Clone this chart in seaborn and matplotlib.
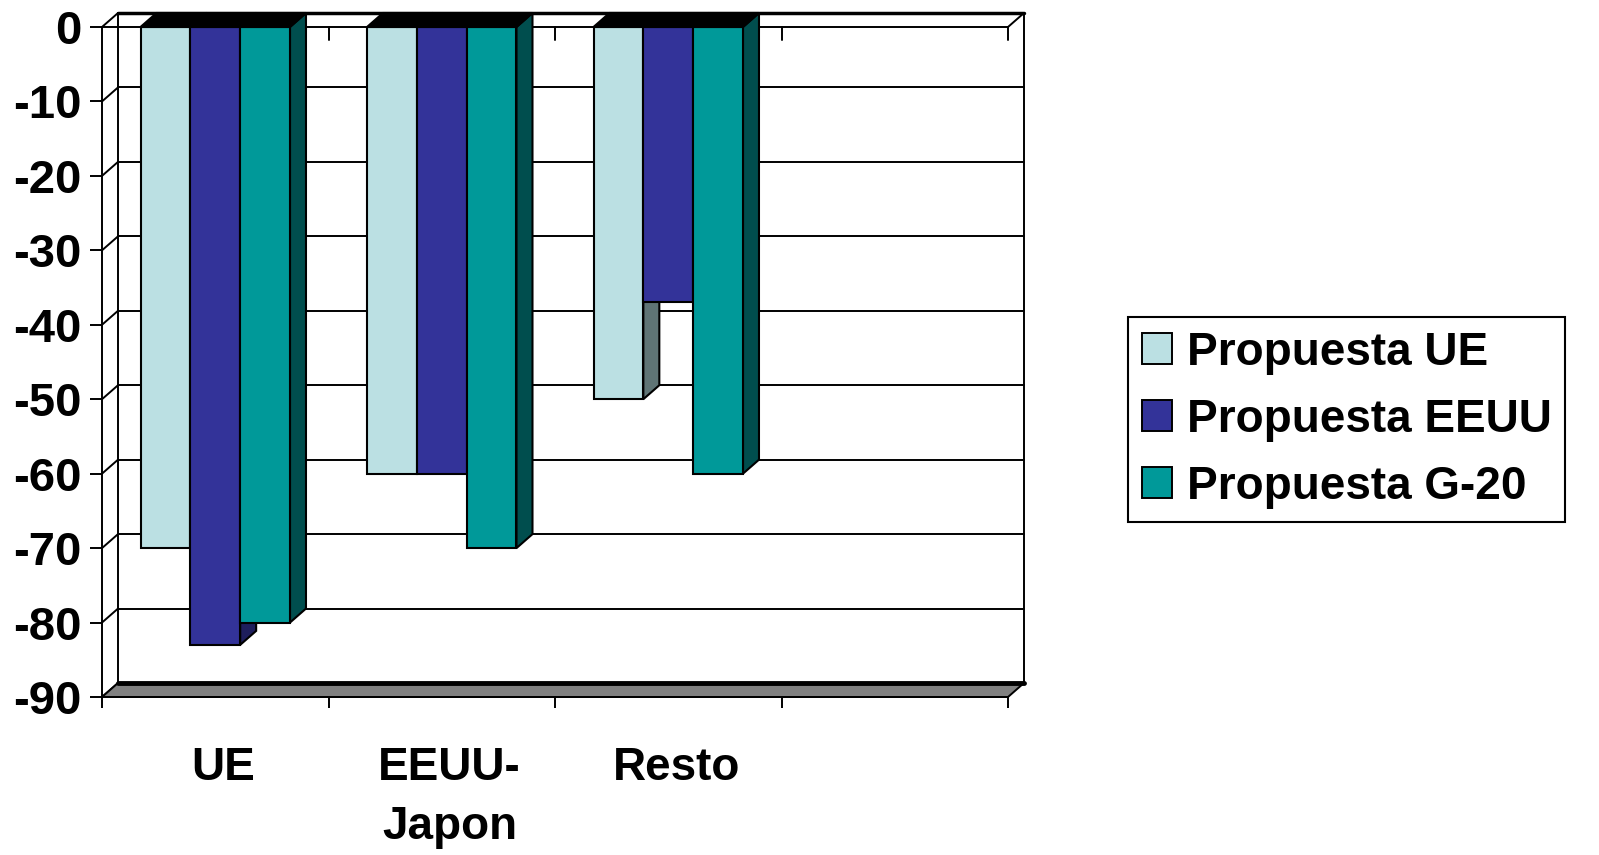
import matplotlib
matplotlib.use('Agg')
import matplotlib.pyplot as plt
from matplotlib.patches import Polygon, Patch
import pandas as pd
import seaborn as sns

# Data
categories = ['UE', 'EEUU-\nJapon', 'Resto']
series = ['Propuesta UE', 'Propuesta EEUU', 'Propuesta G-20']
propuesta_ue = [-70, -60, -50]
propuesta_eeuu = [-83, -60, -37]
propuesta_g20 = [-80, -70, -60]
y_ticks = list(range(0, -100, -10))

front_colors = ['#BBE0E3', '#333399', '#009999']
side_colors = ['#5F7475', '#1E1E5C', '#004E4E']

df = pd.DataFrame({
    'categoria': categories * 3,
    'serie': [s for s in series for _ in categories],
    'valor': propuesta_ue + propuesta_eeuu + propuesta_g20,
})

sns.set_theme(style='white', rc={'text.color': 'black', 'xtick.color': 'black',
                                 'ytick.color': 'black', 'axes.labelcolor': 'black'})
plt.rcParams['font.family'] = ['Liberation Sans', 'DejaVu Sans']
plt.rcParams['font.weight'] = 'bold'

fig = plt.figure(figsize=(15.99, 8.55), dpi=100)
ax = fig.add_axes([102 / 1599, 158 / 855, 906 / 1599, 670 / 855])

# pseudo 3D depth offset (data units)
dx, dy = 0.0706, 1.88
x0, x1 = -0.5, 3.5
y0, y1 = -90, 0
line_kw = dict(color='black', lw=1.4, clip_on=False)

# back wall + left wall
for v in y_ticks:
    ax.plot([x0 + dx, x1 + dx], [v + dy, v + dy], zorder=1, **line_kw)
    ax.plot([x0, x0 + dx], [v, v + dy], zorder=1, **line_kw)
ax.plot([x0 + dx, x0 + dx], [y0 + dy, y1 + dy], zorder=1, **line_kw)
ax.plot([x1 + dx, x1 + dx], [y0 + dy, y1 + dy], zorder=1, **line_kw)

# floor
floor = Polygon([(x0, y0), (x1, y0), (x1 + dx, y0 + dy), (x0 + dx, y0 + dy)],
                closed=True, facecolor='#808080', edgecolor='black', lw=1.4,
                clip_on=False, zorder=1.5)
ax.add_patch(floor)
ax.plot([x0 + dx, x1 + dx], [y0 + dy, y0 + dy], color='black', lw=3.5,
        clip_on=False, zorder=1.6)

# zero plane
ax.plot([x0, x1], [0, 0], zorder=1, **line_kw)
ax.plot([x0 + dx, x1 + dx], [dy, dy], color='black', lw=2.5, clip_on=False, zorder=1)
ax.plot([x1, x1 + dx], [0, dy], zorder=1, **line_kw)
for b in [0.5, 1.5, 2.5, 3.5]:
    ax.plot([b, b], [0, -1.75], zorder=1, **line_kw)

# bars
sns.barplot(data=df, x='categoria', y='valor', hue='serie', order=categories,
            hue_order=series, palette=front_colors, width=0.66, saturation=1,
            edgecolor='black', linewidth=1.5, legend=False, ax=ax, zorder=3)

for i, cont in enumerate(ax.containers):
    for bar in cont:
        x, w, h = bar.get_x(), bar.get_width(), bar.get_height()
        side = Polygon([(x + w, 0), (x + w + dx, dy), (x + w + dx, h + dy), (x + w, h)],
                       closed=True, facecolor=side_colors[i], edgecolor='black',
                       lw=1.5, clip_on=False, zorder=2.5)
        ax.add_patch(side)
        top = Polygon([(x, 0), (x + w, 0), (x + w + dx, dy), (x + dx, dy)],
                      closed=True, facecolor='black', edgecolor='black',
                      lw=1.5, clip_on=False, zorder=4)
        ax.add_patch(top)

ax.set_xlim(x0, x1)
ax.set_ylim(y0, y1)
ax.set_xlabel('')
ax.set_ylabel('')

for s in ['top', 'right']:
    ax.spines[s].set_visible(False)
for s in ['left', 'bottom']:
    ax.spines[s].set_color('black')
    ax.spines[s].set_linewidth(1.4)

ax.set_yticks(y_ticks)
ax.set_yticklabels([str(v) for v in y_ticks], fontsize=34, fontweight='bold')
ax.tick_params(axis='y', left=True, length=8.6, width=1.4, pad=6, color='black',
               labelcolor='black')

# category labels sit in the middle of the 3D slot
ax.set_xticks([i + dx / 2 for i in range(len(categories))])
ax.set_xticklabels(categories, fontsize=33, fontweight='bold', linespacing=1.45)
ax.set_xticks([-0.5, 0.5, 1.5, 2.5, 3.5], minor=True)
ax.tick_params(axis='x', which='major', length=0, pad=35, labelcolor='black')
ax.tick_params(axis='x', which='minor', bottom=True, length=8, width=1.4, color='black')

handles = [Patch(facecolor=c, edgecolor='black', lw=1.4, label=s)
           for c, s in zip(front_colors, series)]
leg = fig.legend(handles=handles, loc='upper left',
                 bbox_to_anchor=(1128 / 1599, 1 - 317 / 855),
                 prop={'size': 33, 'weight': 'bold'}, frameon=True,
                 fancybox=False, framealpha=1, edgecolor='black',
                 handlelength=0.65, handleheight=0.65, handletextpad=0.33,
                 labelspacing=0.5, borderpad=0.3, borderaxespad=0)
leg.get_frame().set_linewidth(1.5)
for t in leg.get_texts():
    t.set_color('black')

fig.savefig('out.png', dpi=100)
